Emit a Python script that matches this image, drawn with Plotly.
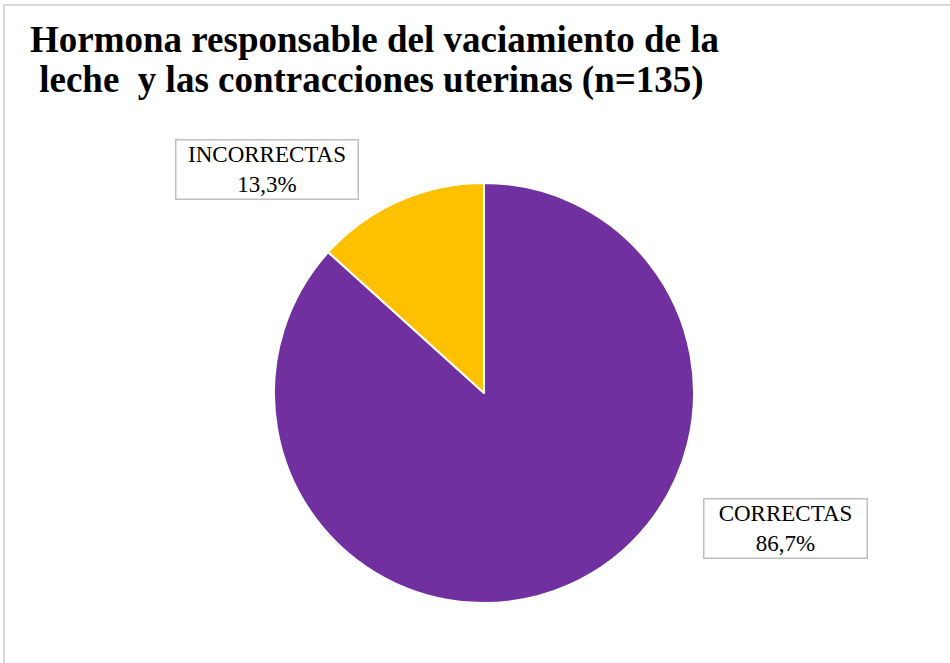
import plotly.graph_objects as go

labels = ["CORRECTAS", "INCORRECTAS"]
values = [86.7, 13.3]
colors = ["#7030A0", "#FFC000"]

title_lines = [
    "Hormona responsable del vaciamiento de la",
    " leche  y las contracciones uterinas (n=135)",
]

W, H = 950, 663
serif = "Liberation Serif, Times New Roman, serif"


def px(x):
    return x / W


def py(y):
    return 1 - y / H


fig = go.Figure()
fig.add_trace(go.Pie(
    labels=labels,
    values=values,
    sort=False,
    direction="clockwise",
    rotation=0,
    marker=dict(colors=colors, line=dict(color="white", width=2)),
    textinfo="none",
    hoverinfo="label+percent",
    showlegend=False,
    domain=dict(x=[px(274), px(694)], y=[py(603), py(183)]),
))

# title: two lines placed separately to get the tighter line spacing
for line, yc in zip(title_lines, [39, 80]):
    fig.add_annotation(
        text="<b>" + line.replace(" ", "&nbsp;") + "</b>",
        x=px(28), y=py(yc), xref="paper", yref="paper",
        xanchor="left", yanchor="middle", align="left", showarrow=False,
        font=dict(family=serif, size=37, color="black"),
    )

# label boxes
for lab, val, cx, cy, w in [(labels[1], values[1], 266.5, 170, 181),
                            (labels[0], values[0], 785, 528.5, 162)]:
    fig.add_annotation(
        text=f"{lab}<br>{val:.1f}%".replace(".", ","),
        x=px(cx), y=py(cy), xref="paper", yref="paper",
        xanchor="center", yanchor="middle",
        showarrow=False, align="center",
        width=w, height=58,
        font=dict(family=serif, size=23, color="black"),
        bordercolor="#bfbfbf", borderwidth=1.5, borderpad=0, bgcolor="white",
    )

# chart-area frame
fig.add_shape(
    type="rect", xref="paper", yref="paper",
    x0=px(4), x1=1.01, y0=-0.01, y1=py(5),
    line=dict(color="#d9d9d9", width=2),
)

fig.update_layout(
    width=W, height=H,
    margin=dict(l=0, r=0, t=0, b=0),
    paper_bgcolor="white",
    plot_bgcolor="white",
)

fig.write_html("out.html", config={"displayModeBar": False},
               post_script="document.body.style.margin='0';")
